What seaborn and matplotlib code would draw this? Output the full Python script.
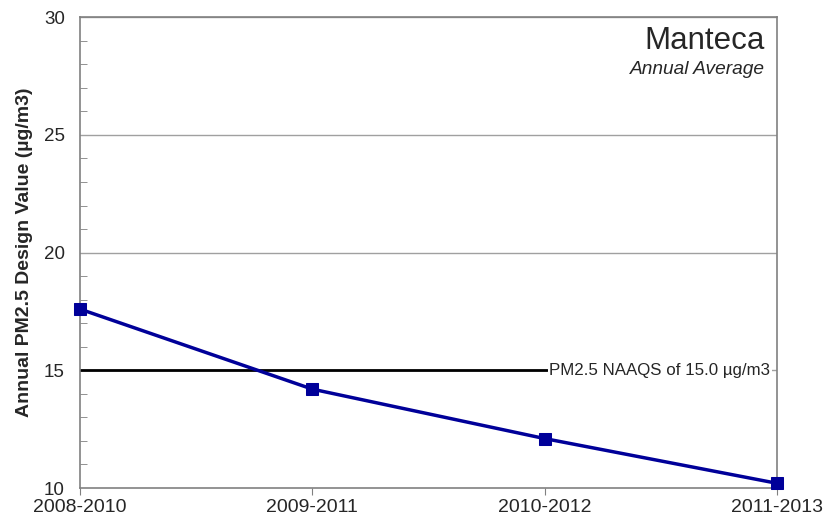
import pandas as pd
import matplotlib.pyplot as plt
import seaborn as sns
from matplotlib.ticker import MultipleLocator

# design value periods and annual PM2.5 design values
periods = ['2008-2010', '2009-2011', '2010-2012', '2011-2013']
design_values = [17.6, 14.2, 12.1, 10.2]
naaqs = 15.0
yticks = [10, 15, 20, 25, 30]

df = pd.DataFrame({'period': periods, 'value': design_values})
df['pos'] = range(len(periods))

sns.set_style('white')
plt.rcParams['font.family'] = ['Liberation Sans', 'DejaVu Sans']

fig = plt.figure(figsize=(8.31, 5.21), dpi=100)
ax = fig.add_axes([0.0963, 0.0633, 0.8388, 0.9037])

# gridlines
for y in yticks[1:]:
    ax.axhline(y, color='#a0a0a0', lw=1, zorder=0)

# standard line
ax.plot([0, 2.01], [naaqs, naaqs], color='black', lw=2, zorder=2)
ax.text(2.02, naaqs, 'PM2.5 NAAQS of 15.0 µg/m3', fontsize=12.2, va='center', ha='left',
        bbox=dict(facecolor='white', edgecolor='none', pad=1), zorder=3)

sns.lineplot(x='pos', y='value', data=df, ax=ax, color='#000099', lw=2.5,
             marker='s', markersize=8, markeredgecolor='#000099', zorder=4, clip_on=False)

ax.set_xlim(0, 3)
ax.set_ylim(10, 30)
ax.set_xticks(range(len(periods)))
ax.set_xticklabels(periods, fontsize=14)
ax.set_yticks(yticks)
ax.set_yticklabels([str(v) for v in yticks], fontsize=13.5)
ax.yaxis.set_minor_locator(MultipleLocator(1))
ax.tick_params(axis='y', which='major', direction='out', length=5, color='#808080', pad=6)
ax.tick_params(axis='y', which='minor', direction='in', length=5, color='#808080', left=True)
ax.tick_params(axis='x', which='major', direction='out', length=5, color='#808080', bottom=True, pad=3)
ax.set_xlabel('')
ax.set_ylabel('Annual PM2.5 Design Value (µg/m3)', fontsize=14, fontweight='bold', labelpad=8)

for s in ['left', 'bottom', 'right', 'top']:
    ax.spines[s].set_color('#808080')
    ax.spines[s].set_linewidth(1.2)

ax.text(0.983, 0.95, 'Manteca', transform=ax.transAxes, ha='right', va='center', fontsize=22.5)
ax.text(0.983, 0.888, 'Annual Average', transform=ax.transAxes, ha='right', va='center',
        fontsize=13.8, style='italic')

fig.savefig('out.png', dpi=100)
